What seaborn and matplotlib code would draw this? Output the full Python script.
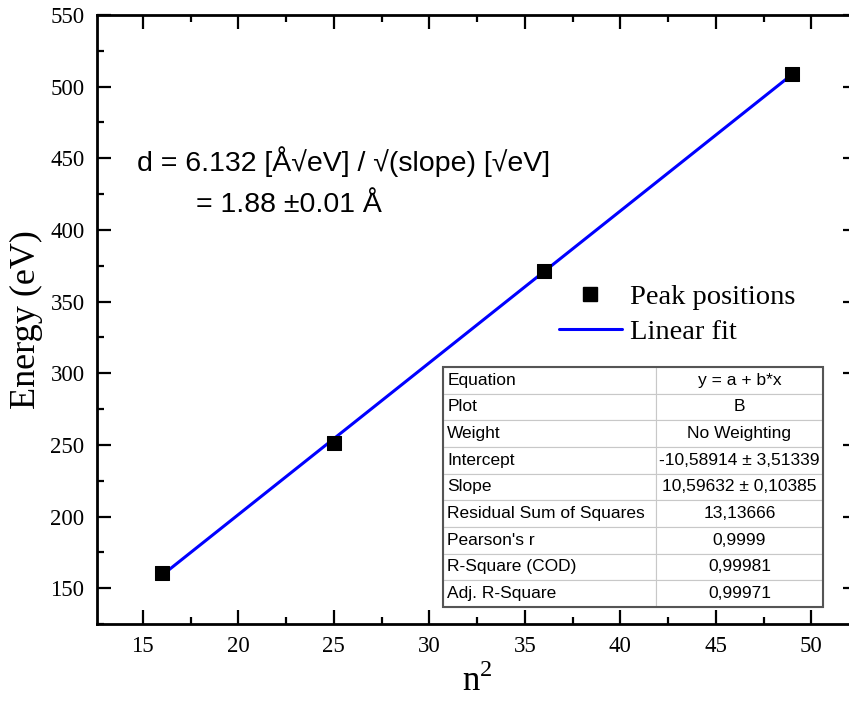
import numpy as np
import pandas as pd
import seaborn as sns
import matplotlib.pyplot as plt
from matplotlib.ticker import MultipleLocator
from matplotlib.lines import Line2D

# data
n_squared = [16, 25, 36, 49]
energy = [160.5, 251.0, 371.5, 509.0]
intercept = -10.58914
slope = 10.59632

table_labels = ["Equation", "Plot", "Weight", "Intercept", "Slope",
                "Residual Sum of Squares", "Pearson's r", "R-Square (COD)",
                "Adj. R-Square"]
table_values = ["y = a + b*x", "B", "No Weighting", "-10,58914 \u00b1 3,51339",
                "10,59632 \u00b1 0,10385", "13,13666", "0,9999", "0,99981",
                "0,99971"]

df = pd.DataFrame({"n2": n_squared, "E": energy})
fit = pd.DataFrame({"n2": [n_squared[0], n_squared[-1]]})
fit["E"] = intercept + slope * fit["n2"]

sns.set_style("ticks", {"axes.edgecolor": "black", "xtick.color": "black",
                        "ytick.color": "black", "text.color": "black",
                        "axes.labelcolor": "black"})
plt.rcParams['font.family'] = ['Liberation Serif', 'DejaVu Serif']

fig = plt.figure(figsize=(8.49, 7.10), dpi=100)
# right spine sits just past the image edge, as in the original export
ax = fig.add_axes([97 / 849, 1 - 624 / 710, 760 / 849, 609 / 710])

sns.lineplot(data=fit, x="n2", y="E", ax=ax, color="blue", lw=2.2, zorder=2)
sns.scatterplot(data=df, x="n2", y="E", ax=ax, marker="s", s=90, color="black",
                edgecolor="black", zorder=3)

ax.set_xlim(12.6, 12.6 + 760 / 19.1)
ax.set_ylim(125, 550)
ax.xaxis.set_major_locator(MultipleLocator(5))
ax.xaxis.set_minor_locator(MultipleLocator(2.5))
ax.yaxis.set_major_locator(MultipleLocator(50))
ax.yaxis.set_minor_locator(MultipleLocator(25))
ax.tick_params(which="both", direction="in", top=True, right=True, width=1.6,
               labelsize=16.5)
ax.tick_params(which="major", length=10, pad=9)
ax.tick_params(which="minor", length=5)
for s in ax.spines.values():
    s.set_linewidth(2)

ax.set_xlabel("n$^{\\mathregular{2}}$", fontsize=25, labelpad=5)
ax.set_ylabel("Energy (eV)", fontsize=26, labelpad=5)

ax.text(0.052, 0.759, "d = 6.132 [Å\u221aeV] / \u221a(slope) [\u221aeV]",
        transform=ax.transAxes, fontsize=20.5, va="center",
        family=["Liberation Sans", "DejaVu Sans"])
ax.text(0.13, 0.688, "= 1.88 \u00b10.01 Å", transform=ax.transAxes,
        fontsize=20.5, va="center", family=["Liberation Sans", "DejaVu Sans"])

handles = [Line2D([], [], ls="none", marker="s", color="black", markersize=9.5),
           Line2D([], [], color="blue", lw=2.2)]
ax.legend(handles, ["Peak positions", "Linear fit"], loc="upper left",
          bbox_to_anchor=(0.574, 0.6), frameon=False, fontsize=20.5,
          handlelength=2.2, handletextpad=0.3, labelspacing=0.3)

cell_text = [[a, b] for a, b in zip(table_labels, table_values)]
tb = [346 / 760, 0.028, 380 / 760, 0.394]
tab = ax.table(cellText=cell_text, bbox=tb, colWidths=[0.56, 0.44],
               cellLoc="center", zorder=4)
tab.auto_set_font_size(False)
for (r, c), cell in tab.get_celld().items():
    cell.set_edgecolor("#c8c8c8")
    cell.set_linewidth(0.8)
    cell.set_text_props(fontsize=12.5, family="Liberation Sans")
    if c == 0:
        cell.set_text_props(ha="left")
        cell.PAD = 0.02
    cell.get_text().set_va("center")
# outer border
ax.add_patch(plt.Rectangle((tb[0], tb[1]), tb[2], tb[3], transform=ax.transAxes,
                           fill=False, edgecolor="#555555", lw=1.5, zorder=5))

fig.savefig("out.png", dpi=100)
